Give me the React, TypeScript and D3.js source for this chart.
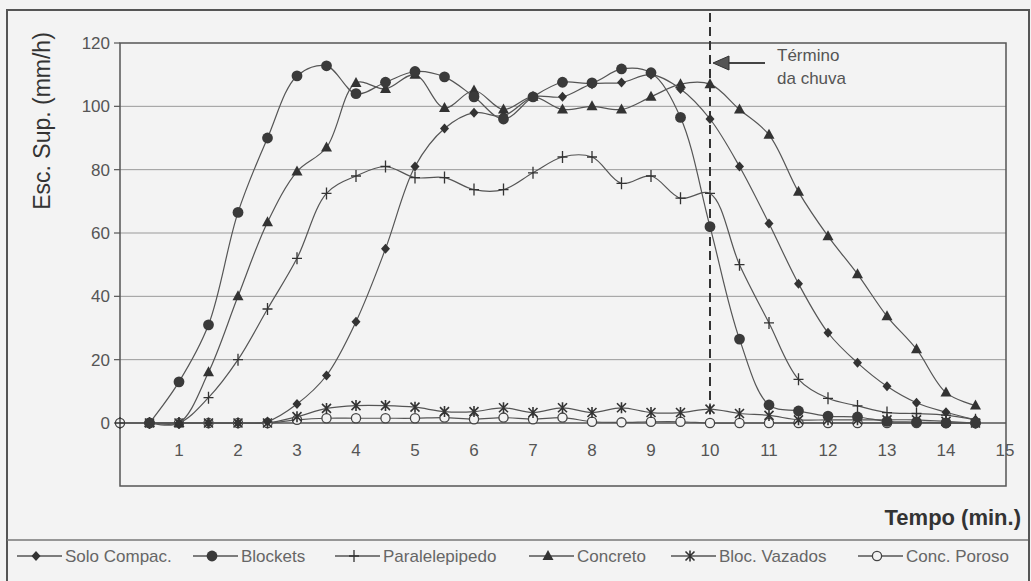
import React from 'react';
import * as d3 from 'd3';

// tempo (min.), one reading every half minute
const tempo = [0, 0.5, 1, 1.5, 2, 2.5, 3, 3.5, 4, 4.5, 5, 5.5, 6, 6.5, 7, 7.5, 8, 8.5, 9, 9.5, 10, 10.5, 11, 11.5, 12, 12.5, 13, 13.5, 14, 14.5];

// escoamento superficial (mm/h)
const soloCompac = [null, 0, 0, 0, 0, 0.5, 6, 15, 32, 55, 81, 93, 98, 97, 103, 103, 107, 107.5, 110, 105.5, 96, 81, 63, 44, 28.5, 19, 11.6, 6.4, 3.4, 1];
const blockets = [null, 0, 13, 31, 66.5, 90, 109.6, 112.8, 104, 107.6, 111, 109.3, 103, 96, 103, 107.6, 107.4, 111.8, 110.6, 96.5, 62, 26.5, 5.7, 3.8, 2.2, 1.9, 0.5, 0.3, 0, 0];
const paralelepipedo = [0, 0, 0, 8, 20, 36, 52, 72.5, 78, 81, 77.5, 77.5, 73.7, 73.7, 79, 84, 84, 75.7, 78, 71, 72.5, 50, 31.6, 13.8, 7.8, 5.4, 3.3, 3, 2.5, 1];
const concreto = [null, 0, 0, 16, 40, 63.4, 79.4, 87, 107.4, 105.5, 110, 99.5, 105, 99, 103, 99, 100, 99, 103, 107, 107, 99, 91, 73, 59, 47, 33.7, 23.3, 9.6, 5.5];
const blocVazados = [null, 0, 0, 0, 0, 0, 2, 4.6, 5.5, 5.5, 5, 3.6, 3.6, 4.8, 3.3, 4.8, 3.3, 4.8, 3.3, 3.3, 4.4, 3, 2.4, 1, 1, 1, 1, 1, 0.5, 0];
const concPoroso = [0, 0, 0, 0, 0, 0, 1, 1.5, 1.5, 1.5, 1.5, 1.7, 1.2, 1.7, 1.2, 1.7, 0.4, 0.2, 0.4, 0.4, 0, 0, 0, 0, 0, 0, 0, 0, 0, 0];

const seriesNames = ['Solo Compac.', 'Blockets', 'Paralelepipedo', 'Concreto', 'Bloc. Vazados', 'Conc. Poroso'];
const seriesValues = [soloCompac, blockets, paralelepipedo, concreto, blocVazados, concPoroso];
const seriesMarkers = ['diamond', 'dot', 'plus', 'triangle', 'star', 'ring'];

const yTicks = [0, 20, 40, 60, 80, 100, 120];
const xTicks = [1, 2, 3, 4, 5, 6, 7, 8, 9, 10, 11, 12, 13, 14, 15];
const fimChuva = 10;

const W = 1031;
const H = 581;
const BG = '#f3f3f3';

function Marker({ type, x, y }: { type: string; x: number; y: number }) {
  if (type === 'dot') return <circle cx={x} cy={y} r={5.4} fill="#3a3a3a" />;
  if (type === 'ring') return <circle cx={x} cy={y} r={4.6} fill={BG} stroke="#444" strokeWidth={1.3} />;
  if (type === 'diamond') return <path d={`M${x},${y - 5}L${x + 4.5},${y}L${x},${y + 5}L${x - 4.5},${y}Z`} fill="#333" />;
  if (type === 'triangle') return <path d={`M${x},${y - 6}L${x + 5.5},${y + 4}L${x - 5.5},${y + 4}Z`} fill="#333" />;
  if (type === 'plus')
    return <path d={`M${x - 5},${y}H${x + 5}M${x},${y - 6}V${y + 6}`} stroke="#333" strokeWidth={1.3} />;
  // asterisco (x com traço vertical)
  return (
    <path
      d={`M${x - 4.5},${y - 4.5}L${x + 4.5},${y + 4.5}M${x + 4.5},${y - 4.5}L${x - 4.5},${y + 4.5}M${x},${y - 5.5}V${y + 5.5}`}
      stroke="#333"
      strokeWidth={1.6}
    />
  );
}

export default function App() {
  const x = d3.scaleLinear().domain([0, 15]).range([120, 1005]);
  const y = d3.scaleLinear().domain([0, 120]).range([423, 43]);
  const plot = { left: 120, top: 43, right: 1006, bottom: 486 };

  // linhas suavizadas, como no original
  const line = d3
    .line<number | null>()
    .defined((d) => d !== null)
    .x((_, i) => x(tempo[i]))
    .y((d) => y(d as number))
    .curve(d3.curveCatmullRom.alpha(0.5));

  const legendX = [17, 193, 335, 529, 671, 858];
  const legendY = 556;
  const drawOrder = [5, 4, 2, 3, 0, 1];

  return (
    <svg width={W} height={H} style={{ position: 'absolute', left: 0, top: 0 }} fontFamily="'Liberation Sans', Arial, sans-serif">
      <rect x={0} y={0} width={W} height={H} fill={BG} />
      {/* moldura externa */}
      <path d={`M7,${H}V10H1029V${H}`} fill="none" stroke="#555" strokeWidth={2} />
      <line x1={7} x2={1028} y1={540} y2={540} stroke="#777" strokeWidth={1.3} />

      {/* grade */}
      {yTicks.slice(1, -1).map((t) => (
        <line key={t} x1={plot.left} x2={plot.right} y1={y(t)} y2={y(t)} stroke="#999" strokeWidth={1} />
      ))}
      <line x1={plot.left} x2={plot.right} y1={y(0)} y2={y(0)} stroke="#555" strokeWidth={1.3} />
      <rect
        x={plot.left}
        y={plot.top}
        width={plot.right - plot.left}
        height={plot.bottom - plot.top}
        fill="none"
        stroke="#555"
        strokeWidth={1.5}
      />

      {/* eixo y */}
      {yTicks.map((t) => (
        <g key={t}>
          <line x1={plot.left - 6} x2={plot.left} y1={y(t)} y2={y(t)} stroke="#555" strokeWidth={1.2} />
          <text x={110} y={y(t)} dy="0.35em" textAnchor="end" fontSize={17} fill="#555">
            {t}
          </text>
        </g>
      ))}
      <text transform={`translate(50,121) rotate(-90)`} textAnchor="middle" fontSize={23} fill="#333">
        Esc. Sup. (mm/h)
      </text>

      {/* eixo x */}
      {xTicks.map((t) => (
        <text key={t} x={x(t)} y={450} dy="0.35em" textAnchor="middle" fontSize={17} fill="#555">
          {t}
        </text>
      ))}
      <text x={1021} y={525} textAnchor="end" fontSize={22} fontWeight="bold" fill="#333">
        Tempo (min.)
      </text>

      {/* término da chuva */}
      <line x1={x(fimChuva)} x2={x(fimChuva)} y1={13} y2={y(0)} stroke="#333" strokeWidth={2} strokeDasharray="9,5" />
      <line x1={726} x2={765} y1={63} y2={63} stroke="#444" strokeWidth={2} />
      <path d={`M${x(fimChuva) + 3},63L729,56L729,70Z`} fill="#555" stroke="#333" strokeWidth={1} />
      <text x={777} y={61} fontSize={17} fill="#555">Término</text>
      <text x={777} y={84} fontSize={17} fill="#555">da chuva</text>

      {/* séries */}
      {drawOrder.map((s) => (
        <g key={s}>
          <path d={line(seriesValues[s]) || ''} fill="none" stroke="#555" strokeWidth={1.2} />
          {seriesValues[s].map((v, i) =>
            v === null ? null : <Marker key={i} type={seriesMarkers[s]} x={x(tempo[i])} y={y(v)} />
          )}
        </g>
      ))}

      {/* legenda */}
      {seriesNames.map((name, s) => (
        <g key={name}>
          <line x1={legendX[s]} x2={legendX[s] + 45} y1={legendY} y2={legendY} stroke="#555" strokeWidth={1.3} />
          <Marker type={seriesMarkers[s]} x={legendX[s] + 19} y={legendY} />
          <text x={legendX[s] + 48} y={legendY} dy="0.35em" fontSize={17} fill="#666">
            {name}
          </text>
        </g>
      ))}
    </svg>
  );
}
